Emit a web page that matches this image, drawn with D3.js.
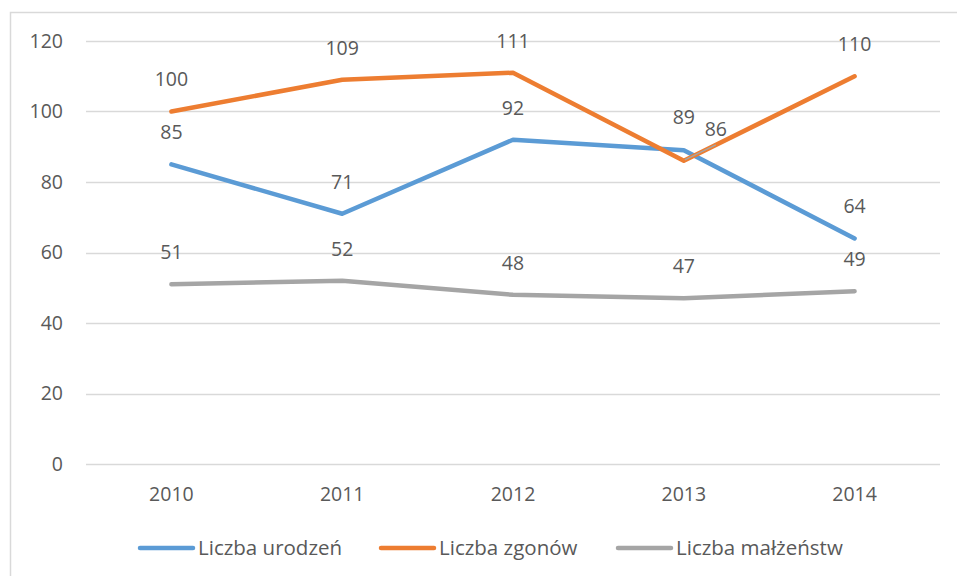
<!DOCTYPE html>
<html><head><meta charset="utf-8">
<script src="https://cdn.jsdelivr.net/npm/d3@7"></script>
<style>body{margin:0;background:#fff}svg{display:block}text{font-family:"Open Sans","Noto Sans",sans-serif;fill:#595959}</style>
</head><body><svg id="c" width="957" height="576"></svg>
<script>
const years = ["2010","2011","2012","2013","2014"];
const urodzen = [85,71,92,89,64];
const zgonow = [100,109,111,86,110];
const malzenstw = [51,52,48,47,49];
const seriesNames = ["Liczba urodzeń","Liczba zgonów","Liczba małżeństw"];
const colors = ["#5B9BD5","#ED7D31","#A5A5A5"];
const yTicks = [0,20,40,60,80,100,120];

const series = [urodzen, zgonow, malzenstw];
const FS = 19.5;
const svg = d3.select("#c");
svg.append("rect").attr("x",10.5).attr("y",12.5).attr("width",960).attr("height",600)
  .attr("fill","#fff").attr("stroke","#d9d9d9").attr("stroke-width",1.5);

const x = d3.scaleBand().domain(years).range([86,940]);
const y = d3.scaleLinear().domain([0,120]).range([464,41]);
const cx = i => x(years[i]) + x.bandwidth()/2;

svg.append("g").selectAll("line").data(yTicks).join("line")
  .attr("x1",86).attr("x2",940).attr("y1",d=>Math.round(y(d))+0.5).attr("y2",d=>Math.round(y(d))+0.5)
  .attr("stroke","#d9d9d9").attr("stroke-width",1.3);

svg.append("g").selectAll("text").data(yTicks).join("text")
  .attr("x",63).attr("y",d=>y(d)).attr("dy","0.35em").attr("text-anchor","end")
  .attr("font-size",FS).text(d=>d);

svg.append("g").selectAll("text").data(years).join("text")
  .attr("x",d=>x(d)+x.bandwidth()/2).attr("y",494).attr("dy","0.35em").attr("text-anchor","middle")
  .attr("font-size",FS).text(d=>d);

const line = d3.line().x((d,i)=>cx(i)).y(d=>y(d));
series.forEach((s,k)=>{
  svg.append("path").datum(s).attr("d",line).attr("fill","none")
    .attr("stroke",colors[k]).attr("stroke-width",4.5).attr("stroke-linejoin","round").attr("stroke-linecap","round");
});
// leader line for 2013 deaths label
svg.append("line").attr("x1",cx(3)+1).attr("y1",y(zgonow[3])-1).attr("x2",cx(3)+32).attr("y2",y(zgonow[3])-16)
  .attr("stroke","#A5A5A5").attr("stroke-width",1.5);
// labels
const offsets = [
  [[0,-32],[0,-32],[0,-32],[0,-33],[0,-32]],
  [[0,-32],[0,-32],[0,-32],[32,-32],[0,-32]],
  [[0,-32],[0,-32],[0,-32],[0,-32],[0,-32]]
];
series.forEach((s,k)=>{
  svg.append("g").selectAll("text").data(s).join("text")
    .attr("x",(d,i)=>cx(i)+offsets[k][i][0])
    .attr("y",(d,i)=>y(d)+offsets[k][i][1]).attr("dy","0.35em")
    .attr("text-anchor","middle").attr("font-size",FS).text(d=>d);
});

// legend
const legX = [140,381,618];
const lg = svg.append("g");
seriesNames.forEach((n,k)=>{
  lg.append("line").attr("x1",legX[k]).attr("x2",legX[k]+53).attr("y1",548).attr("y2",548)
    .attr("stroke",colors[k]).attr("stroke-width",4.5).attr("stroke-linecap","round");
  lg.append("text").attr("x",legX[k]+58).attr("y",548).attr("dy","0.35em").attr("font-size",20.5).text(n);
});
</script></body></html>
